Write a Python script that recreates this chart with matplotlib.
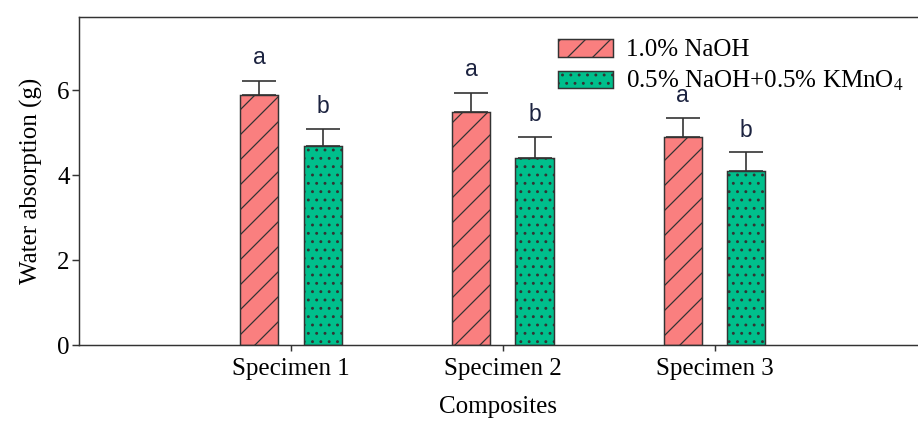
import matplotlib
matplotlib.use("Agg")
import matplotlib.pyplot as plt
import numpy as np

categories = ["Specimen 1", "Specimen 2", "Specimen 3"]
series_names = ["1.0% NaOH", "0.5% NaOH+0.5% KMnO$_4$"]
naoh_vals = [5.9, 5.5, 4.9]
naoh_err = [0.33, 0.44, 0.44]
kmno4_vals = [4.7, 4.4, 4.1]
kmno4_err = [0.40, 0.50, 0.44]
naoh_letters = ["a", "a", "a"]
kmno4_letters = ["b", "b", "b"]
yticks = [0, 2, 4, 6]

plt.rcParams["font.family"] = ["Liberation Serif", "DejaVu Serif"]
plt.rcParams["mathtext.fontset"] = "stix"
plt.rcParams["hatch.linewidth"] = 0.6
plt.rcParams["hatch.color"] = "black"

DPI = 150
fig = plt.figure(figsize=(918 / DPI, 425 / DPI), dpi=DPI)
ax = fig.add_axes([79 / 918, 1 - 345 / 425, 1 - 79 / 918, (345 - 17) / 425])

x = np.arange(1, len(categories) + 1)
off = 0.15
w = 0.18
red = "#FA7F7F"
green = "#00BF8C"
edge = "#333333"

b1 = ax.bar(x - off, naoh_vals, w, color=red, edgecolor=edge, linewidth=0.7,
            hatch="//", label=series_names[0], zorder=2)
b2 = ax.bar(x + off, kmno4_vals, w, color=green, edgecolor=edge, linewidth=0.7,
            hatch="...", label=series_names[1], zorder=2)
ax.errorbar(x - off, naoh_vals, yerr=[np.zeros(3), naoh_err], fmt="none",
            ecolor=edge, elinewidth=0.8, capsize=8, capthick=0.8, zorder=3)
ax.errorbar(x + off, kmno4_vals, yerr=[np.zeros(3), kmno4_err], fmt="none",
            ecolor=edge, elinewidth=0.8, capsize=8, capthick=0.8, zorder=3)

for xi, v, e, t in zip(x - off, naoh_vals, naoh_err, naoh_letters):
    ax.text(xi, v + e + 0.27, t, ha="center", va="bottom", fontsize=11,
            family=["Liberation Sans"], color="#1c2340", zorder=1)
for xi, v, e, t in zip(x + off, kmno4_vals, kmno4_err, kmno4_letters):
    ax.text(xi, v + e + 0.25, t, ha="center", va="bottom", fontsize=11,
            family=["Liberation Sans"], color="#1c2340", zorder=1)

ax.set_xlim(0, 3.96)
ax.set_ylim(0, 7.73)
ax.set_xticks(x)
ax.set_xticklabels(categories, fontsize=12)
ax.set_yticks(yticks)
ax.set_yticklabels([str(t) for t in yticks], fontsize=12)
ax.tick_params(axis="y", direction="out", length=3.4, width=0.7, color=edge, pad=1)
ax.tick_params(axis="x", direction="out", length=3, width=0.7, color=edge, pad=3)
ax.set_ylabel("Water absorption (g)", fontsize=12, labelpad=7)
ax.set_xlabel("Composites", fontsize=12, labelpad=8)

for s in ["left", "top", "bottom"]:
    ax.spines[s].set_color(edge)
    ax.spines[s].set_linewidth(0.7)
ax.spines["right"].set_visible(False)

fig.legend(handles=[b1, b2], loc="upper left", bbox_to_anchor=(558 / 918, 1 - 39 / 425),
           frameon=False, fontsize=12, handlelength=2.2, handleheight=0.7,
           handletextpad=0.5, labelspacing=0.3, borderpad=0, borderaxespad=0)

fig.savefig("out.png", dpi=DPI)
